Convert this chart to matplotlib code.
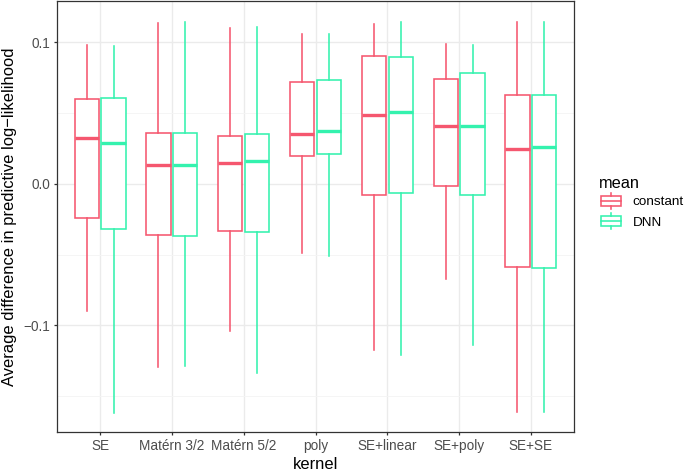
import matplotlib
matplotlib.use("Agg")
import matplotlib.pyplot as plt
from matplotlib.legend_handler import HandlerBase
from matplotlib.patches import Rectangle, Patch
from matplotlib.lines import Line2D

plt.rcParams['font.family'] = ['Liberation Sans', 'DejaVu Sans']

kernels = ["SE", "Matérn 3/2", "Matérn 5/2", "poly", "SE+linear", "SE+poly", "SE+SE"]
groups = ["constant", "DNN"]
colors = {"constant": "#F5576F", "DNN": "#34F2AE"}

# five-number summaries per group: (lower whisker, Q1, median, Q3, upper whisker)
constant_low = [-0.0895, -0.1291, -0.1039, -0.0485, -0.1171, -0.0674, -0.1614]
constant_q1 = [-0.0240, -0.0360, -0.0330, 0.0200, -0.0075, -0.0012, -0.0589]
constant_med = [0.0327, 0.0132, 0.0146, 0.0356, 0.0485, 0.0412, 0.0247]
constant_q3 = [0.0603, 0.0363, 0.0339, 0.0723, 0.0902, 0.0742, 0.0629]
constant_high = [0.0982, 0.1140, 0.1102, 0.1060, 0.1128, 0.0989, 0.1147]

dnn_low = [-0.1616, -0.1286, -0.1333, -0.0507, -0.1206, -0.1140, -0.1614]
dnn_q1 = [-0.0320, -0.0365, -0.0337, 0.0210, -0.0064, -0.0080, -0.0596]
dnn_med = [0.0288, 0.0132, 0.0165, 0.0372, 0.0509, 0.0408, 0.0261]
dnn_q3 = [0.0610, 0.0363, 0.0353, 0.0737, 0.0898, 0.0787, 0.0627]
dnn_high = [0.0973, 0.1143, 0.1107, 0.1060, 0.1143, 0.0982, 0.1143]

summaries = {
    "constant": (constant_low, constant_q1, constant_med, constant_q3, constant_high),
    "DNN": (dnn_low, dnn_q1, dnn_med, dnn_q3, dnn_high),
}

fig = plt.figure(figsize=(6.85, 4.75), dpi=100)
ax = fig.add_axes([57 / 685, 1 - 432 / 475, (574 - 57) / 685, 431 / 475])

dodge = 0.1875
box_w = 0.3375
lw = 1.15
for gi, g in enumerate(groups):
    low, q1, med, q3, high = summaries[g]
    stats = []
    for i in range(len(kernels)):
        stats.append(dict(whislo=low[i], q1=q1[i], med=med[i], q3=q3[i], whishi=high[i], fliers=[]))
    pos = [i + 1 + (gi - 0.5) * 2 * dodge for i in range(len(kernels))]
    c = colors[g]
    ax.bxp(stats, positions=pos, widths=box_w, showcaps=False, showfliers=False,
           patch_artist=True, manage_ticks=False,
           boxprops=dict(facecolor="white", edgecolor=c, linewidth=lw),
           whiskerprops=dict(color=c, linewidth=lw),
           medianprops=dict(color=c, linewidth=lw * 2.1, solid_capstyle="butt"),
           zorder=3)

ax.set_xlim(0.4, 7.6)
ax.set_ylim(-0.1753, 0.1293)
ax.set_xticks(range(1, len(kernels) + 1))
ax.set_xticklabels(kernels)
ax.set_yticks([-0.1, 0.0, 0.1])
ax.set_yticklabels(["\u22120.1", "0.0", "0.1"])
ax.set_yticks([-0.15, -0.05, 0.05], minor=True)

ax.grid(True, which="major", color="#EBEBEB", linewidth=1.0, zorder=0)
ax.grid(True, which="minor", axis="y", color="#F4F4F4", linewidth=0.6, zorder=0)
ax.set_axisbelow(True)

for s in ax.spines.values():
    s.set_color("#333333")
    s.set_linewidth(0.9)

ax.tick_params(axis="both", which="major", length=2.5, width=0.9, color="#333333",
               labelcolor="#4D4D4D", labelsize=9.8, pad=2.5)
ax.tick_params(axis="both", which="minor", length=0)

ax.set_xlabel("kernel", fontsize=11.9, color="black")
ax.set_ylabel("Average difference in predictive log\u2212likelihood", fontsize=11.9, color="black")
ax.xaxis.set_label_coords(0.5, -(457 - 432) / 431)
ax.yaxis.set_label_coords(-(57 - 17) / 517, 0.5)


class BoxHandler(HandlerBase):
    def create_artists(self, legend, orig_handle, xdescent, ydescent, width, height, fontsize, trans):
        c = orig_handle.get_edgecolor()
        x0 = -xdescent
        y0 = -ydescent
        rect = Rectangle((x0 + 0.1 * width, y0 + 0.25 * height), 0.8 * width, 0.5 * height,
                         facecolor="white", edgecolor=c, linewidth=lw, transform=trans)
        med = Line2D([x0 + 0.1 * width, x0 + 0.9 * width], [y0 + 0.5 * height] * 2,
                     color=c, linewidth=lw, transform=trans)
        w1 = Line2D([x0 + 0.5 * width] * 2, [y0 + 0.1 * height, y0 + 0.25 * height],
                    color=c, linewidth=lw, transform=trans)
        w2 = Line2D([x0 + 0.5 * width] * 2, [y0 + 0.75 * height, y0 + 0.9 * height],
                    color=c, linewidth=lw, transform=trans)
        return [rect, med, w1, w2]


handles = [Patch(edgecolor=colors[g], facecolor="white", label=g) for g in groups]
leg = fig.legend(handles=handles, labels=groups, title="mean", loc="upper left",
                 bbox_to_anchor=(599 / 685, 1 - 176 / 475), frameon=False,
                 fontsize=9.7, title_fontsize=11.8, handlelength=1.85, handleheight=1.93,
                 labelspacing=0.0, handletextpad=0.65, borderpad=0, borderaxespad=0,
                 alignment="left", handler_map={Patch: BoxHandler()})

fig.savefig("out.png", dpi=100)
